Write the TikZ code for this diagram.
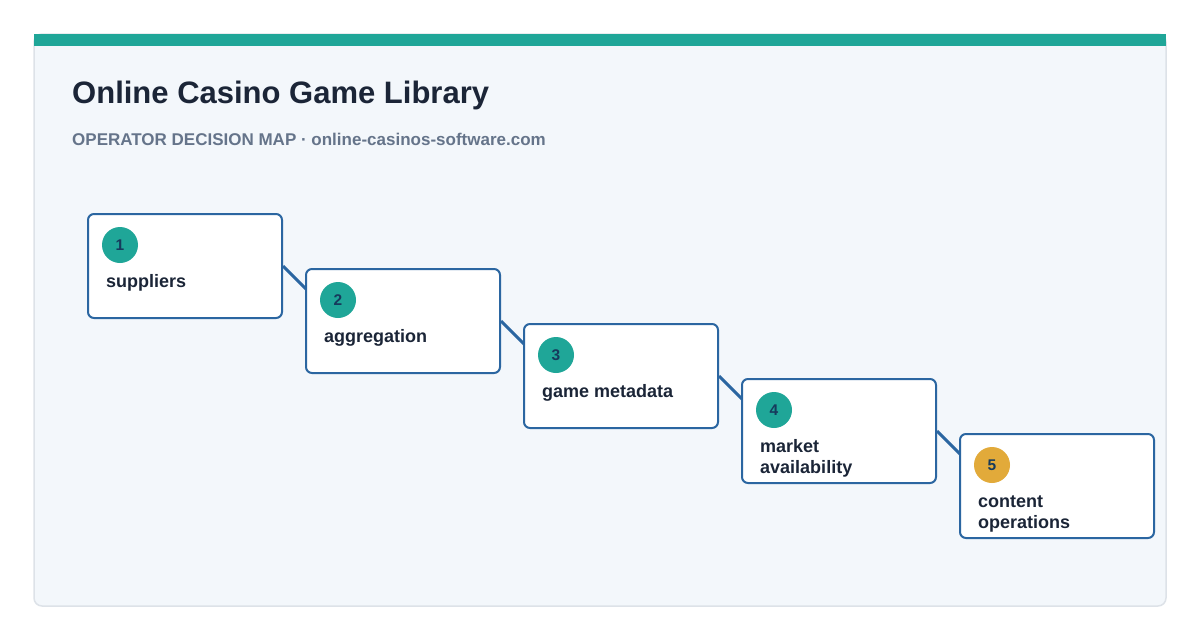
\documentclass[tikz,border=0pt]{standalone}
\usepackage{fontspec}
\setmainfont{Liberation Sans}
\usetikzlibrary{calc}
\definecolor{panelfill}{HTML}{F3F7FB}
\definecolor{panelrule}{HTML}{DDE2E8}
\definecolor{bandteal}{HTML}{1FA698}
\definecolor{stageblue}{HTML}{2B66A1}
\definecolor{ink}{HTML}{1B2537}
\definecolor{subink}{HTML}{65748A}
\definecolor{numink}{HTML}{163A5C}
\definecolor{gold}{HTML}{E2AA3A}
\pgfdeclarelayer{back}
\pgfdeclarelayer{links}
\pgfsetlayers{back,links,main}
\newcommand{\stagetext}[1]{\begin{tabular}[t]{@{}l@{}}#1\end{tabular}}
\tikzset{
  stagebox/.style={draw=stageblue, line width=2pt, fill=white, rounded corners=6pt,
    minimum width=194pt, minimum height=104pt, inner sep=0pt},
  badge/.style={circle, minimum size=36pt, inner sep=0pt, text=numink,
    font=\fontsize{15.5}{18}\selectfont\bfseries},
  stagelabel/.style={anchor=base west, inner sep=0pt, text=ink,
    font=\fontsize{18}{21}\selectfont\bfseries},
  link/.style={draw=stageblue, line width=3pt}
}
\begin{document}
\begin{tikzpicture}[x=1pt, y=-1pt]
  \useasboundingbox (0,0) rectangle (1200,640);
  % Panel and top band
  \begin{pgfonlayer}{back}
    \draw[panelrule, fill=panelfill, line width=1.5pt, rounded corners=8pt] (34,34) rectangle (1166,606);
    \fill[bandteal] (34,34) rectangle (1166,46);
  \end{pgfonlayer}
  % Heading
  \node[anchor=base west, inner sep=0pt, text=ink, font=\fontsize{31}{36}\selectfont\bfseries]
    (title) at (72,103) {Online Casino Game Library};
  \node[anchor=base west, inner sep=0pt, text=subink, font=\fontsize{17}{20}\selectfont\bfseries]
    (subtitle) at (72,145) {OPERATOR DECISION MAP · online-casinos-software.com};
  % Stages
  \foreach \i/\lbl/\tone in {1/suppliers/bandteal, 2/aggregation/bandteal,
      3/game metadata/bandteal, 4/{market\\availability}/bandteal,
      5/{content\\operations}/gold} {
    \pgfmathsetmacro{\bx}{88+218*(\i-1)}
    \pgfmathsetmacro{\by}{214+55*(\i-1)}
    \node[stagebox] (s\i) at (\bx+97,\by+52) {};
    \node[badge, fill=\tone] (n\i) at (\bx+32,\by+31) {\i};
    \node[stagelabel] (t\i) at (\bx+18,\by+73) {\stagetext{\lbl}};
  }
  % Links between stages
  \begin{pgfonlayer}{links}
    \foreach \i [count=\j from 2] in {1,...,4}
      \draw[link] (s\i.east) -- ++(30,30) -- (s\j.center);
  \end{pgfonlayer}
\end{tikzpicture}
\end{document}
